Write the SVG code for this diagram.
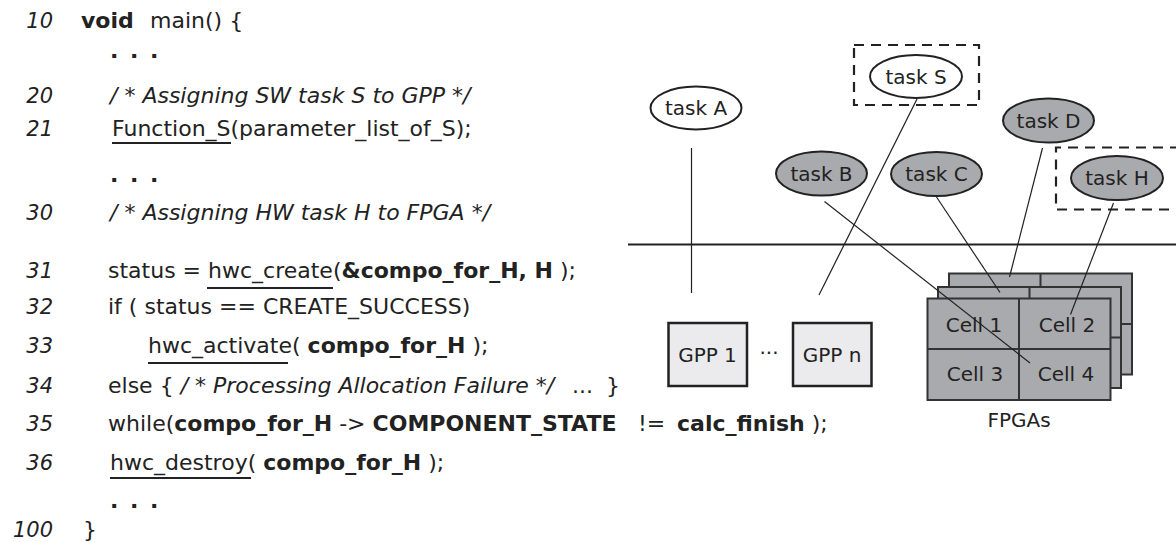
<svg xmlns="http://www.w3.org/2000/svg" width="1176" height="542" viewBox="0 0 1176 542">
<style>
text{font-family:"DejaVu Sans","Verdana",sans-serif;fill:#222}
.code{font-size:22px}
.num{font-size:21px;font-style:italic;text-anchor:end}
.it{font-style:italic}
.b{font-weight:bold}
.lbl{font-size:20px;text-anchor:middle}
.ul{stroke:#222;stroke-width:1.8}
.task{stroke:#222;stroke-width:2}
.white{fill:#fff}
.gray{fill:#a9aaad}
.dash{fill:none;stroke:#222;stroke-width:2.2;stroke-dasharray:10 7}
.gpp{fill:#ebebed;stroke:#222;stroke-width:2.5}
.board{fill:#a9aaad;stroke:#333;stroke-width:2}
.div{stroke:#333;stroke-width:2}
.conn{stroke:#222;stroke-width:1.2;fill:none}
</style>
<g id="code" xml:space="preserve">
<text class="num" x="53" y="28">10</text>
<text class="code" y="28"><tspan x="81" class="b">void</tspan><tspan x="150">main() {</tspan></text>
<text class="code b" x="110 130 150" y="58">...</text>
<text class="num" x="53" y="103">20</text>
<text class="code it" x="110" y="103">/ * Assigning SW task S to GPP */</text>
<text class="num" x="53" y="136">21</text>
<text class="code" x="112" y="136">Function_S(parameter_list_of_S);</text>
<line class="ul" x1="112" y1="143" x2="231" y2="143"/>
<text class="code b" x="110 130 150" y="182">...</text>
<text class="num" x="53" y="220">30</text>
<text class="code it" x="110" y="220">/ * Assigning HW task H to FPGA */</text>
<text class="num" x="53" y="278">31</text>
<text class="code" x="108" y="278">status = hwc_create(<tspan class="b">&amp;compo_for_H, H</tspan> );</text>
<line class="ul" x1="207" y1="288" x2="333" y2="288"/>
<text class="num" x="53" y="314">32</text>
<text class="code" x="108" y="314">if ( status == CREATE_SUCCESS)</text>
<text class="num" x="53" y="353">33</text>
<text class="code" x="148" y="353">hwc_activate( <tspan class="b">compo_for_H</tspan> );</text>
<line class="ul" x1="148" y1="363" x2="288" y2="363"/>
<text class="num" x="53" y="393">34</text>
<text class="code" x="108" y="393">else { <tspan class="it">/ * Processing Allocation Failure */</tspan><tspan x="572">...</tspan><tspan x="606">}</tspan></text>
<text class="num" x="53" y="431">35</text>
<text class="code" x="108" y="431">while(<tspan class="b">compo_for_H</tspan> -&gt; <tspan class="b">COMPONENT_STATE</tspan><tspan x="638">!=</tspan><tspan x="677" class="b">calc_finish</tspan> );</text>
<text class="num" x="53" y="470">36</text>
<text class="code" x="110" y="470">hwc_destroy( <tspan class="b">compo_for_H</tspan> );</text>
<line class="ul" x1="110" y1="478" x2="251" y2="478"/>
<text class="code b" x="110 130 150" y="508">...</text>
<text class="num" x="53" y="537">100</text>
<text class="code" x="83" y="537">}</text>
</g>
<line x1="628" y1="244.5" x2="1176" y2="244.5" stroke="#222" stroke-width="1.8"/>
<g id="task-A">
<ellipse class="task white" cx="696" cy="108" rx="45.5" ry="21.5"/>
<text class="lbl" x="696" y="115">task A</text>
</g>
<g id="task-S">
<rect class="dash" x="854" y="45" width="125" height="60"/>
<ellipse class="task white" cx="916" cy="76.5" rx="46" ry="21.5"/>
<text class="lbl" x="916" y="83.5">task S</text>
</g>
<g id="task-B">
<ellipse class="task gray" cx="821.5" cy="173.5" rx="45.5" ry="22"/>
<text class="lbl" x="821.5" y="180.5">task B</text>
</g>
<g id="task-C">
<ellipse class="task gray" cx="936.5" cy="174" rx="45.5" ry="22"/>
<text class="lbl" x="936.5" y="181">task C</text>
</g>
<g id="task-D">
<ellipse class="task gray" cx="1048.5" cy="120.5" rx="45.5" ry="22"/>
<text class="lbl" x="1048.5" y="127.5">task D</text>
</g>
<g id="task-H">
<path class="dash" d="M1180,147.5 H1056 V209.5 H1180"/>
<ellipse class="task gray" cx="1117" cy="178" rx="46" ry="22"/>
<text class="lbl" x="1117" y="185">task H</text>
</g>
<g id="gpp-1">
<rect class="gpp" x="668.5" y="323" width="78.5" height="63"/>
<text class="lbl" x="707.5" y="362">GPP 1</text>
</g>
<text class="lbl" x="769" y="360">···</text>
<g id="gpp-n">
<rect class="gpp" x="793" y="323" width="78.5" height="63"/>
<text class="lbl" x="832" y="362">GPP n</text>
</g>
<g id="fpgas">
<rect class="board" x="949" y="273.5" width="183" height="101"/>
<line class="div" x1="1040.5" y1="273.5" x2="1040.5" y2="374.5"/>
<line class="div" x1="949" y1="324" x2="1132" y2="324"/>
<rect class="board" x="938" y="287" width="183" height="101"/>
<line class="div" x1="1029.5" y1="287" x2="1029.5" y2="388"/>
<line class="div" x1="938" y1="337.5" x2="1121" y2="337.5"/>
<rect class="board" x="927.5" y="298.5" width="183" height="101.5"/>
<line class="div" x1="1019" y1="298.5" x2="1019" y2="400"/>
<line class="div" x1="927.5" y1="349" x2="1110.5" y2="349"/>
<text class="lbl" x="974" y="331.5">Cell 1</text>
<text class="lbl" x="1067" y="331.5">Cell 2</text>
<text class="lbl" x="975" y="381">Cell 3</text>
<text class="lbl" x="1066" y="381">Cell 4</text>
<text class="lbl" x="1019" y="427">FPGAs</text>
</g>
<g id="connectors">
<line class="conn" x1="691.5" y1="148" x2="691.5" y2="293"/>
<line class="conn" x1="917" y1="99" x2="819" y2="295"/>
<line class="conn" x1="824.5" y1="201.5" x2="1030" y2="363"/>
<line class="conn" x1="936.5" y1="197" x2="1000" y2="292.5"/>
<line class="conn" x1="1042.5" y1="148" x2="1009.5" y2="277"/>
<line class="conn" x1="1113.5" y1="203" x2="1070.5" y2="314.5"/>
</g>
</svg>
